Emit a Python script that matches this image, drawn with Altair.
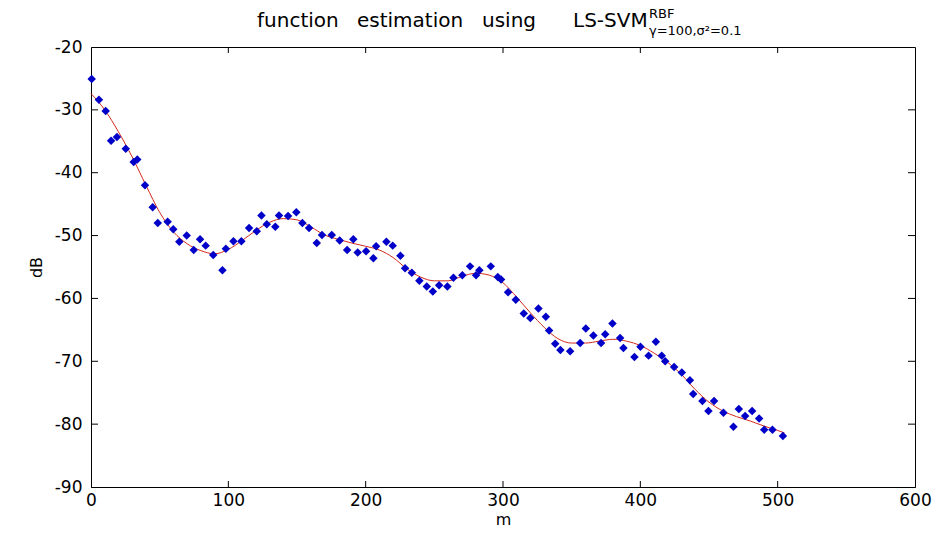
import altair as alt
import pandas as pd

# measured samples
m_pts = [0.5, 5.8, 10.7, 14.6, 18.9, 25.3, 31.1, 33.7, 39.3, 44.9, 48.6, 55.8, 59.9, 64.3, 69.7,
         74.8, 79.4, 83.5, 89.0, 95.7, 98.2, 103.7, 109.5, 115.1, 120.7, 124.1, 128.0, 134.2,
         136.9, 143.5, 149.5, 153.9, 158.8, 164.4, 168.2, 175.3, 181.1, 186.5, 191.0, 194.2,
         200.3, 205.6, 207.6, 215.1, 219.7, 225.3, 228.7, 233.6, 239.1, 244.5, 248.9, 253.5,
         259.5, 263.9, 270.4, 276.0, 280.4, 282.8, 291.1, 296.2, 298.6, 303.7, 309.3, 315.1,
         319.9, 325.8, 331.2, 333.6, 338.0, 341.8, 348.9, 356.2, 360.3, 365.8, 371.4, 374.4,
         379.7, 385.3, 387.7, 395.7, 400.1, 406.0, 411.3, 415.6, 418.1, 424.6, 430.2, 436.1,
         438.5, 445.2, 449.6, 453.7, 460.5, 467.8, 471.7, 476.3, 481.4, 486.5, 490.2, 496.2,
         503.8]
db_pts = [-25.1, -28.4, -30.2, -34.9, -34.3, -36.2, -38.3, -37.9, -42.0, -45.5, -48.0, -47.8,
          -49.0, -51.0, -50.0, -52.3, -50.6, -51.6, -53.1, -55.5, -52.1, -50.9, -50.9, -48.8,
          -49.3, -46.8, -48.2, -48.6, -46.8, -46.9, -46.3, -48.0, -48.8, -51.2, -49.9, -49.9,
          -50.8, -52.3, -50.6, -52.7, -52.5, -53.6, -51.7, -51.0, -51.6, -53.2, -55.2, -55.9,
          -57.2, -58.1, -58.9, -57.9, -58.1, -56.7, -56.3, -54.9, -56.3, -55.5, -54.9, -56.6,
          -57.0, -59.0, -60.2, -62.4, -63.1, -61.6, -62.9, -65.1, -67.2, -68.2, -68.4, -67.1,
          -64.8, -65.9, -67.1, -65.7, -64.0, -66.3, -67.9, -69.3, -67.7, -69.1, -66.9, -69.1,
          -70.0, -70.9, -71.8, -73.0, -75.2, -76.3, -77.9, -76.3, -78.2, -80.4, -77.6, -78.7,
          -77.9, -79.1, -80.9, -80.9, -81.9]

# LS-SVM estimate
m_fit = [0, 10, 20, 30, 40, 50, 60, 70, 80, 90, 100, 110, 120, 130, 140, 150, 160, 170, 180,
         190, 200, 210, 220, 230, 240, 250, 260, 270, 280, 290, 300, 310, 320, 330, 340, 350,
         360, 370, 380, 390, 400, 410, 420, 430, 440, 450, 460, 470, 480, 490, 500, 505]
db_fit = [-27.4, -30.0, -33.5, -37.5, -42.0, -46.3, -49.4, -51.3, -52.4, -52.9, -52.2, -50.8,
          -49.2, -47.9, -47.3, -47.5, -48.6, -49.9, -50.6, -51.2, -51.7, -52.3, -53.5, -55.3,
          -56.6, -57.2, -57.2, -56.5, -56.0, -56.3, -57.5, -59.8, -62.3, -64.6, -66.4, -67.1,
          -67.1, -66.8, -66.5, -66.8, -67.5, -68.7, -70.2, -72.1, -74.5, -76.5, -77.9, -78.8,
          -79.5, -80.3, -81.0, -81.4]

x_ticks = [0, 100, 200, 300, 400, 500, 600]
y_ticks = [-90, -80, -70, -60, -50, -40, -30, -20]

W, H = 824, 440
FONT = "DejaVu Sans"
LBL = "datum.value < 0 ? '-' + abs(datum.value) : '' + datum.value"

pts = pd.DataFrame({"m": m_pts, "dB": db_pts})
fit = pd.DataFrame({"m": m_fit, "dB": db_fit})
xt = pd.DataFrame({"t": x_ticks[1:-1]})
yt = pd.DataFrame({"t": y_ticks[1:-1]})
one = pd.DataFrame({"a": [0]})

xs = alt.Scale(domain=[0, 600], nice=False, zero=False)
ys = alt.Scale(domain=[-90, -20], nice=False, zero=False)

xaxis = alt.Axis(values=x_ticks, ticks=False, grid=False, domainColor="black",
                 labelFont=FONT, labelFontSize=17, labelColor="black", labelPadding=5,
                 labelFlush=False, labelExpr=LBL, title="m", titleFont=FONT, titleFontSize=16,
                 titleFontWeight="normal", titleColor="black", titlePadding=3)
yaxis = alt.Axis(values=y_ticks, ticks=False, grid=False, domainColor="black",
                 labelFont=FONT, labelFontSize=17, labelColor="black", labelPadding=9,
                 labelFlush=False, labelExpr=LBL, title="dB", titleFont=FONT, titleFontSize=16,
                 titleFontWeight="normal", titleColor="black", titlePadding=10)

line = alt.Chart(fit).mark_line(color="#d42a1c", strokeWidth=1, interpolate="monotone").encode(
    x=alt.X("m:Q", scale=xs, axis=xaxis),
    y=alt.Y("dB:Q", scale=ys, axis=yaxis),
)
points = alt.Chart(pts).mark_point(shape="diamond", filled=True, size=72, color="#0000c8",
                                   opacity=1).encode(
    x=alt.X("m:Q", scale=xs, axis=xaxis),
    y=alt.Y("dB:Q", scale=ys, axis=yaxis),
)

tick_style = dict(color="black", strokeWidth=1)
xt_bot = alt.Chart(xt).mark_rule(**tick_style).encode(
    x=alt.X("t:Q", scale=xs, axis=xaxis), y=alt.value(H), y2=alt.value(H - 6))
xt_top = alt.Chart(xt).mark_rule(**tick_style).encode(
    x=alt.X("t:Q", scale=xs, axis=xaxis), y=alt.value(0), y2=alt.value(6))
yt_left = alt.Chart(yt).mark_rule(**tick_style).encode(
    y=alt.Y("t:Q", scale=ys, axis=yaxis), x=alt.value(0), x2=alt.value(7))
yt_right = alt.Chart(yt).mark_rule(**tick_style).encode(
    y=alt.Y("t:Q", scale=ys, axis=yaxis), x=alt.value(W - 7), x2=alt.value(W))


def txt(s, x, y, size, align="left"):
    return alt.Chart(one).mark_text(text=s, font=FONT, fontSize=size, color="black",
                                    align=align, baseline="alphabetic").encode(
        x=alt.value(x), y=alt.value(y))


title_layers = [
    txt("function", 166, -20, 20),
    txt("estimation", 266, -20, 20),
    txt("using", 391, -20, 20),
    txt("LS-SVM", 482, -20, 20),
    txt("RBF", 558, -29, 13),
    txt("γ=100,σ²=0.1", 558, -12, 13),
]

chart = alt.layer(line, points, xt_bot, xt_top, yt_left, yt_right, *title_layers).properties(
    width=W, height=H,
    autosize=alt.AutoSizeParams(type="none"),
    padding={"left": 91, "top": 47, "right": 21, "bottom": 46},
    background="white",
).configure_view(stroke="black", strokeWidth=1)

chart.save("out.html", embed_options={"renderer": "svg", "actions": False})
